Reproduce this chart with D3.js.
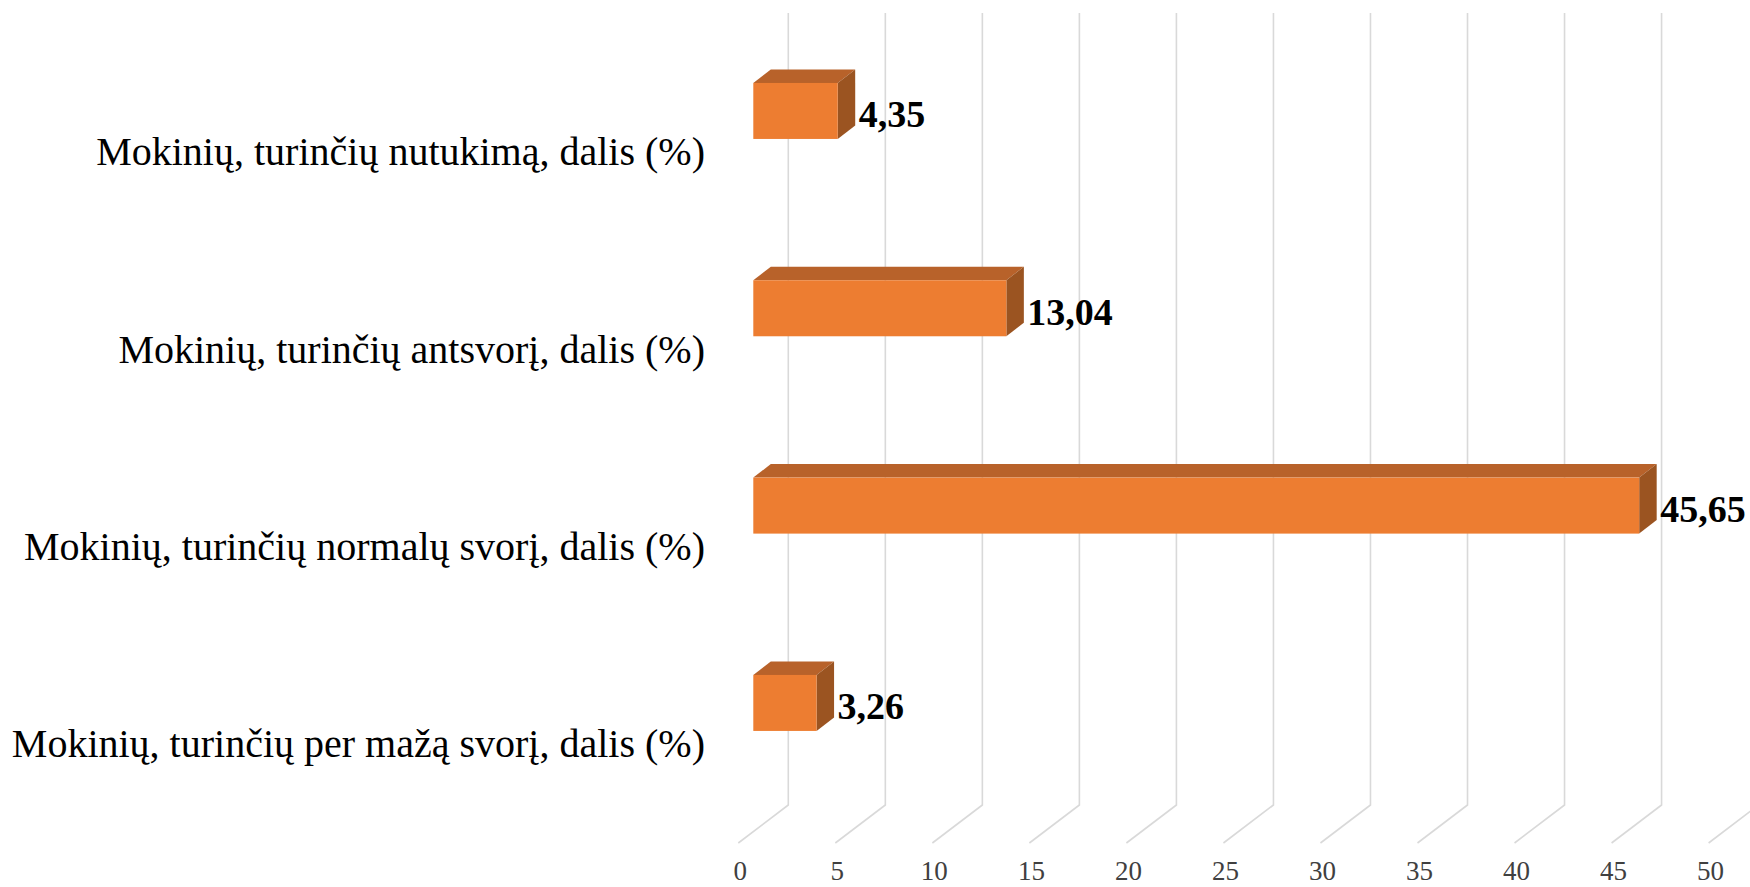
<!DOCTYPE html>
<html>
<head>
<meta charset="utf-8">
<script src="https://cdn.jsdelivr.net/npm/d3@7"></script>
<style>
  html, body { margin: 0; padding: 0; background: #ffffff; }
  svg { display: block; }
</style>
</head>
<body>
<svg id="chart" width="1750" height="887"></svg>
<script>
// ---- data ----
const categories = [
  "Mokinių, turinčių per mažą svorį, dalis (%)",
  "Mokinių, turinčių normalų svorį, dalis (%)",
  "Mokinių, turinčių antsvorį, dalis (%)",
  "Mokinių, turinčių nutukimą, dalis (%)"
];
const values = [3.26, 45.65, 13.04, 4.35];
const valueLabels = ["3,26", "45,65", "13,04", "4,35"];
const tickValues = [0, 5, 10, 15, 20, 25, 30, 35, 40, 45, 50];

// ---- layout ----
const W = 1750, H = 887;
const floorFrontY = 843;   // front edge of floor
const wallDX = 50, wallDY = 38; // depth offset of the back wall
const wallTop = 13;
const barInset = 15;       // bar front x offset from floor-front plane
const barDX = 17.5, barDY = 13.5; // bar depth
const barH = 56;
const barShift = 41.4;     // bar front center above category band center

const svg = d3.select("#chart");

const x = d3.scaleLinear().domain([0, 50]).range([738.3, 1708.6]);
const y = d3.scaleBand()
  .domain(categories)
  .range([floorFrontY, floorFrontY - 4 * 197.33])
  .padding(0);

// gridlines (back wall vertical + floor diagonal)
const grid = svg.append("g");
grid.selectAll("path.grid")
  .data(tickValues)
  .join("path")
  .attr("class", "grid")
  .attr("fill", "none")
  .attr("stroke", "#d9d9d9")
  .attr("stroke-width", 1.6)
  .attr("d", d => {
    const xb = x(d) + wallDX;
    return `M${xb},${wallTop} L${xb},${floorFrontY - wallDY} L${x(d)},${floorFrontY}`;
  });

// tick labels
svg.append("g").selectAll("text.tick")
  .data(tickValues)
  .join("text")
  .attr("class", "tick")
  .attr("x", d => x(d) + 2)
  .attr("y", 880)
  .attr("text-anchor", "middle")
  .attr("font-family", "'Liberation Serif', 'Times New Roman', serif")
  .attr("font-size", 27)
  .attr("fill", "#404040")
  .text(d => d);

// category labels
svg.append("g").selectAll("text.cat")
  .data(categories)
  .join("text")
  .attr("class", "cat")
  .attr("x", 705)
  .attr("y", d => y(d) + y.bandwidth() / 2 + 13)
  .attr("text-anchor", "end")
  .attr("font-family", "'Liberation Serif', 'Times New Roman', serif")
  .attr("font-size", 40)
  .attr("fill", "#000000")
  .text(d => d);

// bars
const data = categories.map((c, i) => ({ c, v: values[i], label: valueLabels[i] }));
const bars = svg.append("g").selectAll("g.bar")
  .data(data)
  .join("g")
  .attr("class", "bar");

function geom(d) {
  const x0 = x(0) + barInset;
  const x1 = x(d.v) + barInset;
  const yc = y(d.c) + y.bandwidth() / 2 - barShift;
  const y0 = yc - barH / 2, y1 = yc + barH / 2;
  return { x0, x1, y0, y1 };
}

// top face
bars.append("path")
  .attr("fill", "#B8622A")
  .attr("d", d => {
    const g = geom(d);
    return `M${g.x0},${g.y0} L${g.x0 + barDX},${g.y0 - barDY} L${g.x1 + barDX},${g.y0 - barDY} L${g.x1},${g.y0} Z`;
  });
// side face
bars.append("path")
  .attr("fill", "#9B5421")
  .attr("d", d => {
    const g = geom(d);
    return `M${g.x1},${g.y0} L${g.x1 + barDX},${g.y0 - barDY} L${g.x1 + barDX},${g.y1 - barDY} L${g.x1},${g.y1} Z`;
  });
// front face
bars.append("rect")
  .attr("fill", "#ED7D31")
  .attr("x", d => geom(d).x0)
  .attr("y", d => geom(d).y0)
  .attr("width", d => geom(d).x1 - geom(d).x0)
  .attr("height", barH);

// value labels
bars.append("text")
  .attr("x", d => geom(d).x1 + barDX + 3.5)
  .attr("y", d => geom(d).y0 + 44.5)
  .attr("font-family", "'Liberation Serif', 'Times New Roman', serif")
  .attr("font-weight", "bold")
  .attr("font-size", 38)
  .attr("fill", "#000000")
  .text(d => d.label);
</script>
</body>
</html>
